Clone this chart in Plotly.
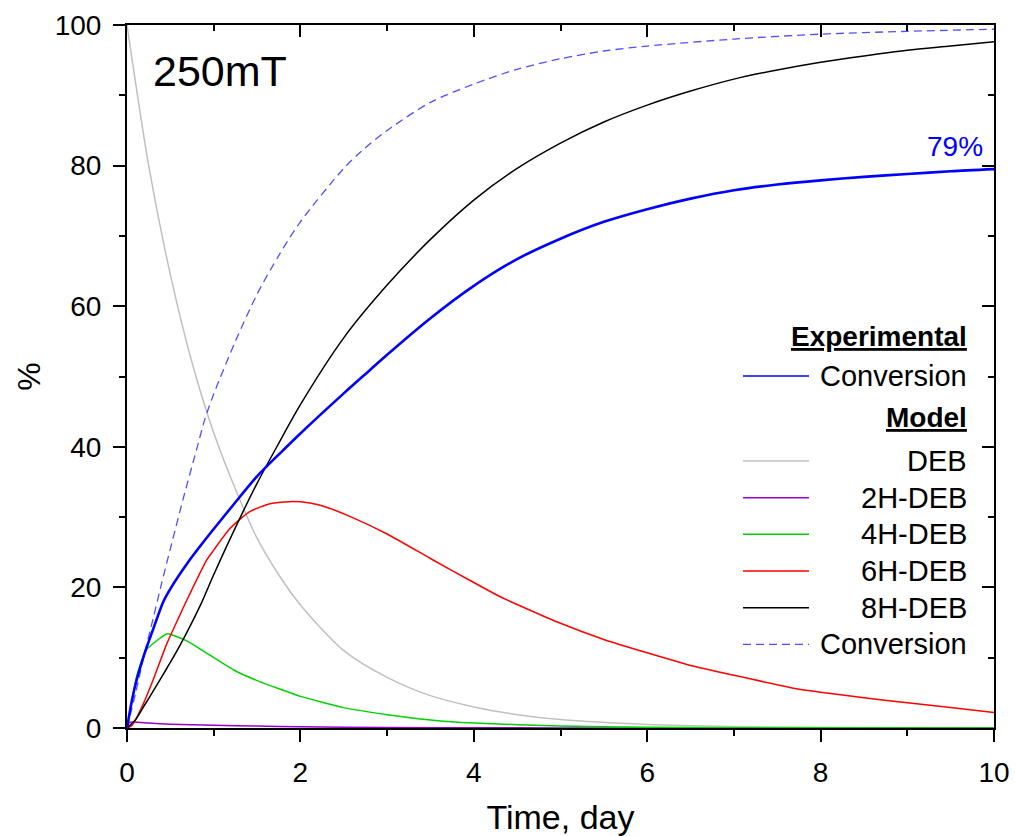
import plotly.graph_objects as go

# ---------------- data ----------------
exp_t = [0, 0.05, 0.1, 0.2, 0.3, 0.42, 0.5, 0.7, 0.84, 1.0, 1.23, 1.5, 1.8, 2.0, 2.5, 2.8,
         3.0, 3.5, 4.0, 4.5, 5.0, 5.5, 6.0, 6.5, 7.0, 7.5, 8.0, 8.5, 9.0, 9.5, 10.0]
exp_conv = [0, 3.5, 6.3, 10.5, 14.0, 18.0, 19.8, 23.5, 25.8, 28.3, 31.8, 35.8, 39.5, 41.9, 47.6, 50.9,
            53.1, 58.3, 62.9, 66.7, 69.6, 72.0, 73.8, 75.3, 76.5, 77.3, 77.9, 78.4, 78.8, 79.2, 79.5]

deb_t = [0, 0.25, 0.5, 0.75, 1.0, 1.25, 1.5, 1.75, 2.0, 2.5, 3.0, 3.5, 4.0, 4.5, 5.0, 6.0, 7.0, 8.0, 9.0, 10.0]
deb = [100, 80, 64.5, 52, 42, 34, 27, 21.8, 17.5, 11, 7.2, 4.6, 3.0, 1.9, 1.2, 0.5, 0.2, 0.08, 0.03, 0.01]

h2_t = [0, 0.03, 0.25, 0.5, 1.0, 1.5, 2.0, 3.0, 4.0, 5.0, 10.0]
h2 = [0, 0.8, 0.7, 0.55, 0.4, 0.27, 0.17, 0.07, 0.03, 0.01, 0]

h4_t = [0, 0.05, 0.11, 0.22, 0.465, 0.69, 0.9, 1.23, 1.53, 2.0, 2.5, 3.0, 3.5, 4.0, 5.0, 6.0, 7.0, 8.0, 10.0]
h4 = [0, 3.5, 7.3, 11.1, 13.4, 12.4, 10.8, 8.25, 6.6, 4.5, 2.9, 1.9, 1.15, 0.7, 0.27, 0.1, 0.04, 0.02, 0]

h6_t = [0, 0.05, 0.1, 0.19, 0.3, 0.46, 0.6, 0.71, 0.92, 1.0, 1.19, 1.42, 1.65, 1.88, 2.11, 2.3, 2.57,
        3.0, 3.53, 4.0, 4.3, 5.0, 5.5, 6.0, 6.5, 7.0, 7.76, 8.0, 8.5, 8.92, 9.5, 10.0]
h6 = [0, 0.3, 1.2, 3.5, 6.8, 12.0, 15.8, 18.7, 23.9, 25.3, 28.4, 30.8, 31.9, 32.2, 32.0, 31.4, 30.1,
      27.6, 23.9, 20.7, 18.7, 14.9, 12.6, 10.7, 8.9, 7.5, 5.5, 5.1, 4.3, 3.7, 2.9, 2.2]

h8_t = [0, 0.1, 0.2, 0.3, 0.46, 0.6, 0.84, 1.0, 1.25, 1.5, 1.75, 2.0, 2.5, 3.0, 3.5, 4.0, 4.5, 5.0,
        5.5, 6.0, 6.5, 7.0, 7.5, 8.0, 8.5, 9.0, 9.5, 10.0]
h8 = [0, 1.2, 3.2, 5.2, 8.5, 11.5, 17.3, 21.8, 28.5, 34.8, 40.5, 46.0, 55.5, 63.0, 69.5, 75.1, 79.6, 83.2,
      86.2, 88.6, 90.6, 92.3, 93.6, 94.7, 95.6, 96.4, 97.0, 97.6]

mod_t = [0, 0.1, 0.2, 0.3, 0.4, 0.5, 0.65, 0.8, 0.9, 1.0, 1.25, 1.5, 1.75, 2.0, 2.5, 2.7, 3.0, 3.5,
         4.0, 4.5, 5.0, 5.5, 6.0, 7.0, 8.0, 9.0, 10.0]
mod_conv = [0, 5, 10.5, 15.5, 20.6, 25.5, 32.7, 39.5, 44, 47.5, 55, 61.7, 67.2, 72.0, 79.6, 82.0, 85.0, 89.0,
            91.6, 93.7, 95.2, 96.3, 97.0, 98.0, 98.7, 99.1, 99.4]

x_ticks = [0, 2, 4, 6, 8, 10]
y_ticks = [0, 20, 40, 60, 80, 100]

# ---------------- styling ----------------
FONT = "Liberation Sans, Arial, sans-serif"
C_EXP = "rgb(0,0,255)"
C_DEB = "rgb(192,192,192)"
C_2H = "rgb(153,0,204)"
C_4H = "rgb(0,210,0)"
C_6H = "rgb(255,0,0)"
C_8H = "rgb(0,0,0)"
C_MOD = "rgb(80,80,255)"
DASH = "8px,5px"

L, R, T, B = 127, 994, 25, 728
W, H = 1015, 836


def fx(p):
    return (p - L) / (R - L)


def fy(p):
    return (B - p) / (B - T)


fig = go.Figure()
model_series = [
    (deb_t, deb, C_DEB, 1.5, "solid", 0.8),
    (h2_t, h2, C_2H, 1.5, "solid", 0.5),
    (h4_t, h4, C_4H, 1.5, "solid", 0.4),
    (h6_t, h6, C_6H, 1.5, "solid", 0.6),
    (h8_t, h8, C_8H, 1.5, "solid", 0.8),
    (mod_t, mod_conv, C_MOD, 1.3, DASH, 0.8),
]
for xs, ys, col, w, dash, sm in model_series:
    fig.add_trace(go.Scatter(x=xs, y=ys, mode="lines",
                             line=dict(color=col, width=w, dash=dash, shape="spline", smoothing=sm),
                             showlegend=False, hoverinfo="skip"))
fig.add_trace(go.Scatter(x=exp_t, y=exp_conv, mode="lines",
                         line=dict(color=C_EXP, width=2.6, shape="spline", smoothing=0.8),
                         showlegend=False, hoverinfo="skip"))
# invisible trace for the mirrored (inside-tick) axes
fig.add_trace(go.Scatter(x=[None], y=[None], xaxis="x2", yaxis="y2", mode="lines",
                         showlegend=False, hoverinfo="skip"))

axis_common = dict(showgrid=False, zeroline=False, showline=True, linecolor="black", linewidth=2,
                   tickcolor="black", tickwidth=2, automargin=False)

fig.update_layout(
    width=W, height=H,
    margin=dict(l=L, r=W - R, t=T, b=H - B, pad=0),
    paper_bgcolor="white", plot_bgcolor="white",
    font=dict(family=FONT, color="black"),
    xaxis=dict(range=[0, 10], tickvals=x_ticks, ticks="outside", ticklen=12, mirror=True,
               tickfont=dict(size=28, family=FONT), ticklabelstandoff=6,
               minor=dict(dtick=1, ticks="outside", ticklen=6, tickwidth=2, tickcolor="black"),
               title=dict(text="Time, day", font=dict(size=34, family=FONT), standoff=20),
               **axis_common),
    yaxis=dict(range=[0, 100], tickvals=y_ticks, ticks="outside", ticklen=12, mirror=True,
               tickfont=dict(size=28, family=FONT), ticklabelstandoff=6,
               minor=dict(dtick=10, ticks="outside", ticklen=6, tickwidth=2, tickcolor="black"),
               title=dict(text="%", font=dict(size=32, family=FONT), standoff=4),
               **axis_common),
    xaxis2=dict(range=[0, 10], tickvals=x_ticks, overlaying="x", side="top", anchor="y",
                ticks="inside", ticklen=12, showticklabels=False, automargin=False,
                minor=dict(dtick=1, ticks="inside", ticklen=6, tickwidth=2, tickcolor="black"),
                showgrid=False, zeroline=False, showline=False, tickcolor="black", tickwidth=2),
    yaxis2=dict(range=[0, 100], tickvals=y_ticks, overlaying="y", side="right", anchor="x2",
                ticks="inside", ticklen=12, showticklabels=False, automargin=False,
                minor=dict(dtick=10, ticks="inside", ticklen=6, tickwidth=2, tickcolor="black"),
                showgrid=False, zeroline=False, showline=False, tickcolor="black", tickwidth=2),
)

annotations = [
    dict(text="250mT", x=fx(151), y=fy(71), xanchor="left", yanchor="middle",
         font=dict(size=43, family=FONT, color="black")),
    dict(text="79%", x=fx(985), y=fy(146), xanchor="right", yanchor="middle",
         font=dict(size=28, family=FONT, color=C_EXP)),
]

# ---------------- legend (hand-built to keep right-aligned labels) ----------------
LEG_TEXT_X = 969
LEG_X0, LEG_X1 = 743, 809
headers = [("<b><u>Experimental</u></b>", 336), ("<b><u>Model</u></b>", 417)]
entries = [
    ("Conversion", 376, C_EXP, 1.5, "solid"),
    ("DEB", 461, C_DEB, 1.5, "solid"),
    ("2H-DEB", 497.7, C_2H, 1.5, "solid"),
    ("4H-DEB", 534.3, C_4H, 1.5, "solid"),
    ("6H-DEB", 571, C_6H, 1.5, "solid"),
    ("8H-DEB", 607.7, C_8H, 1.5, "solid"),
    ("Conversion", 644.3, C_MOD, 1.3, DASH),
]
for txt, yc in headers:
    annotations.append(dict(text=txt, x=fx(LEG_TEXT_X), y=fy(yc), xanchor="right", yanchor="middle",
                            font=dict(size=28, family=FONT, color="black")))
shapes = []
for txt, yc, col, w, dash in entries:
    annotations.append(dict(text=txt, x=fx(LEG_TEXT_X), y=fy(yc), xanchor="right", yanchor="middle",
                            font=dict(size=29, family=FONT, color="black")))
    shapes.append(dict(type="line", xref="paper", yref="paper", x0=fx(LEG_X0), x1=fx(LEG_X1),
                       y0=fy(yc), y1=fy(yc), line=dict(color=col, width=w, dash=dash)))

for a in annotations:
    a.update(xref="paper", yref="paper", showarrow=False)
fig.update_layout(annotations=annotations, shapes=shapes)

fig.write_html("out.html")
